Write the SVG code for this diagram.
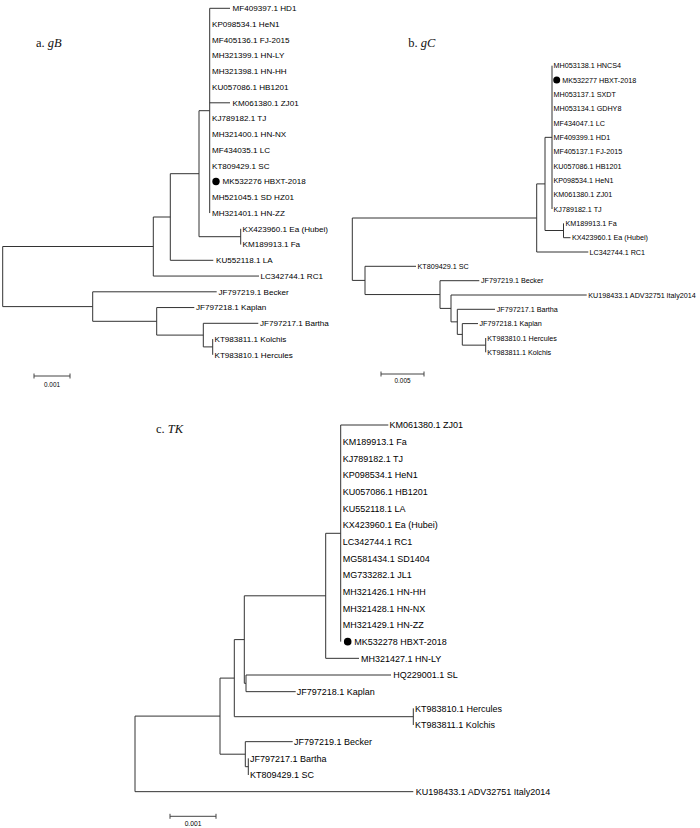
<svg xmlns="http://www.w3.org/2000/svg" width="700" height="828" viewBox="0 0 700 828">
<style>
.br{fill:none;stroke:#333;stroke-width:1}
.sb{fill:none;stroke:#444;stroke-width:1}
.ti{font-family:"Liberation Serif","Times New Roman",serif;font-size:12.5px;fill:#111}
.ti tspan{font-style:italic}
.la{font-family:"Liberation Sans",Arial,sans-serif;font-size:8.1px;fill:#000}
.lb{font-family:"Liberation Sans",Arial,sans-serif;font-size:7.2px;fill:#000}
.lc{font-family:"Liberation Sans",Arial,sans-serif;font-size:9px;fill:#000}
.sl{font-family:"Liberation Sans",Arial,sans-serif;font-size:6.4px;fill:#000;text-anchor:middle}
.dot{fill:#000}
</style>
<rect width="700" height="828" fill="#fff"/>

<g id="title-a"><text class="ti" x="36" y="47.3">a. <tspan>gB</tspan></text></g>
<g id="title-b"><text class="ti" x="408.3" y="47.3">b. <tspan>gC</tspan></text></g>
<g id="title-c"><text class="ti" x="156" y="433.3">c. <tspan>TK</tspan></text></g>

<g id="connectors">
 <g id="connectors-a" class="br">
  <path d="M153.3,246.5 H2.7 V306.6 H92.7"/>
  <path d="M170.3,217 H153.3 V276.05 H259"/>
  <path d="M199,173.7 H170.3 V260.3 H213.3"/>
  <path d="M209.7,110.7 H199 V236.7 H240.7"/>
  <path d="M230,8.3 H209.7 V213.05 M209.7,102.8 H230"/>
  <path d="M240.7,228.8 V244.55"/>
  <path d="M216.7,291.8 H92.7 V321.3 H156.7"/>
  <path d="M194.3,307.55 H156.7 V335.1 H203.3"/>
  <path d="M258.3,323.3 H203.3 V346.9 H212.7"/>
  <path d="M212.7,339.05 V354.8"/>
 </g>
 <g id="connectors-b" class="br">
  <path d="M536.7,218 H352.3 V280.4 H365"/>
  <path d="M545,183.9 H536.7 V252 H588.3"/>
  <path d="M552,137.35 H545 V230.5 H563.5"/>
  <path d="M552,65.7 V209"/>
  <path d="M563.5,223.35 V237.7 H570.5"/>
  <path d="M416,266.3 H365 V294.55 H440"/>
  <path d="M479.3,280.7 H440 V308.4 H451"/>
  <path d="M586.7,295 H451 V321.85 H457.3"/>
  <path d="M495,309.3 H457.3 V334.4 H462.3"/>
  <path d="M478,323.6 H462.3 V345.15 H485.7"/>
  <path d="M485.7,338 V352.3"/>
 </g>
 <g id="connectors-c" class="br">
  <path d="M220,716.1 H135 V791.67 H413.3"/>
  <path d="M234.3,678.1 H220 V754.2 H245.3"/>
  <path d="M244.3,639.6 H234.3 V716.7 H413.3"/>
  <path d="M325.7,595.8 H244.3 V683.3 H246"/>
  <path d="M340.7,533.3 H325.7 V658.33 H359"/>
  <path d="M388.3,425 H340.7 V641.67"/>
  <path d="M391,675 H246 V691.67 H295.7"/>
  <path d="M413.3,708.33 V725"/>
  <path d="M292.7,741.67 H245.3 V766.7 H248.3"/>
  <path d="M248.3,758.33 V775"/>
 </g>
</g>

<g id="tree-a">
 <g id="a-HD1"><text class="la" x="232.5" y="11.2">MF409397.1 HD1</text></g>
 <g id="a-HeN1"><text class="la" x="212" y="26.95">KP098534.1 HeN1</text></g>
 <g id="a-FJ2015"><text class="la" x="212" y="42.7">MF405136.1 FJ-2015</text></g>
 <g id="a-HNLY"><text class="la" x="212" y="58.45">MH321399.1 HN-LY</text></g>
 <g id="a-HNHH"><text class="la" x="212" y="74.2">MH321398.1 HN-HH</text></g>
 <g id="a-HB1201"><text class="la" x="212" y="89.95">KU057086.1 HB1201</text></g>
 <g id="a-ZJ01"><text class="la" x="232.5" y="105.7">KM061380.1 ZJ01</text></g>
 <g id="a-TJ"><text class="la" x="212" y="121.45">KJ789182.1 TJ</text></g>
 <g id="a-HNNX"><text class="la" x="212" y="137.2">MH321400.1 HN-NX</text></g>
 <g id="a-LC"><text class="la" x="212" y="152.95">MF434035.1 LC</text></g>
 <g id="a-SC"><text class="la" x="212" y="168.7">KT809429.1 SC</text></g>
 <g id="a-HBXT"><circle class="dot" cx="216" cy="181.55" r="3.7"/><text class="la" x="222.5" y="184.45">MK532276 HBXT-2018</text></g>
 <g id="a-SDHZ01"><text class="la" x="212" y="200.2">MH521045.1 SD HZ01</text></g>
 <g id="a-HNZZ"><text class="la" x="212" y="215.95">MH321401.1 HN-ZZ</text></g>
 <g id="a-Ea"><text class="la" x="242.5" y="231.7">KX423960.1 Ea (Hubei)</text></g>
 <g id="a-Fa"><text class="la" x="242.5" y="247.45">KM189913.1 Fa</text></g>
 <g id="a-LA"><text class="la" x="216" y="263.2">KU552118.1 LA</text></g>
 <g id="a-RC1"><text class="la" x="260.5" y="278.95">LC342744.1 RC1</text></g>
 <g id="a-Becker"><text class="la" x="218.5" y="294.7">JF797219.1 Becker</text></g>
 <g id="a-Kaplan"><text class="la" x="196" y="310.45">JF797218.1 Kaplan</text></g>
 <g id="a-Bartha"><text class="la" x="260" y="326.2">JF797217.1 Bartha</text></g>
 <g id="a-Kolchis"><text class="la" x="214.5" y="341.95">KT983811.1 Kolchis</text></g>
 <g id="a-Hercules"><text class="la" x="214.5" y="357.7">KT983810.1 Hercules</text></g>
 <g id="a-scale"><path class="sb" d="M34,376 H70 M34,373.5 V378.5 M70,373.5 V378.5"/><text class="sl" x="52" y="386.5">0.001</text></g>
</g>

<g id="tree-b">
 <g id="b-HNCS4"><text class="lb" x="553.5" y="68.3">MH053138.1 HNCS4</text></g>
 <g id="b-HBXT"><circle class="dot" cx="556.7" cy="80.03" r="3.5"/><text class="lb" x="562.3" y="82.63">MK532277 HBXT-2018</text></g>
 <g id="b-SXDT"><text class="lb" x="553.5" y="96.96">MH053137.1 SXDT</text></g>
 <g id="b-GDHY8"><text class="lb" x="553.5" y="111.3">MH053134.1 GDHY8</text></g>
 <g id="b-LC"><text class="lb" x="553.5" y="125.6">MF434047.1 LC</text></g>
 <g id="b-HD1"><text class="lb" x="553.5" y="139.95">MF409399.1 HD1</text></g>
 <g id="b-FJ2015"><text class="lb" x="553.5" y="154.3">MF405137.1 FJ-2015</text></g>
 <g id="b-HB1201"><text class="lb" x="553.5" y="168.6">KU057086.1 HB1201</text></g>
 <g id="b-HeN1"><text class="lb" x="553.5" y="182.95">KP098534.1 HeN1</text></g>
 <g id="b-ZJ01"><text class="lb" x="553.5" y="197.3">KM061380.1 ZJ01</text></g>
 <g id="b-TJ"><text class="lb" x="553.5" y="211.6">KJ789182.1 TJ</text></g>
 <g id="b-Fa"><text class="lb" x="565.5" y="225.95">KM189913.1 Fa</text></g>
 <g id="b-Ea"><text class="lb" x="572" y="240.3">KX423960.1 Ea (Hubei)</text></g>
 <g id="b-RC1"><text class="lb" x="589.5" y="254.6">LC342744.1 RC1</text></g>
 <g id="b-SC"><text class="lb" x="417.5" y="268.9">KT809429.1 SC</text></g>
 <g id="b-Becker"><text class="lb" x="481" y="283.3">JF797219.1 Becker</text></g>
 <g id="b-Italy"><text class="lb" x="588.3" y="297.6">KU198433.1 ADV32751 Italy2014</text></g>
 <g id="b-Bartha"><text class="lb" x="496.7" y="311.9">JF797217.1 Bartha</text></g>
 <g id="b-Kaplan"><text class="lb" x="479.5" y="326.2">JF797218.1 Kaplan</text></g>
 <g id="b-Hercules"><text class="lb" x="487.3" y="340.6">KT983810.1 Hercules</text></g>
 <g id="b-Kolchis"><text class="lb" x="487.3" y="354.9">KT983811.1 Kolchis</text></g>
 <g id="b-scale"><path class="sb" d="M381,374 H424 M381,371.5 V376.5 M424,371.5 V376.5"/><text class="sl" x="402.5" y="383">0.005</text></g>
</g>

<g id="tree-c">
 <g id="c-ZJ01"><text class="lc" x="389.5" y="428.2">KM061380.1 ZJ01</text></g>
 <g id="c-Fa"><text class="lc" x="342.7" y="444.87">KM189913.1 Fa</text></g>
 <g id="c-TJ"><text class="lc" x="342.7" y="461.53">KJ789182.1 TJ</text></g>
 <g id="c-HeN1"><text class="lc" x="342.7" y="478.2">KP098534.1 HeN1</text></g>
 <g id="c-HB1201"><text class="lc" x="342.7" y="494.87">KU057086.1 HB1201</text></g>
 <g id="c-LA"><text class="lc" x="342.7" y="511.53">KU552118.1 LA</text></g>
 <g id="c-Ea"><text class="lc" x="342.7" y="528.2">KX423960.1 Ea (Hubei)</text></g>
 <g id="c-RC1"><text class="lc" x="342.7" y="544.87">LC342744.1 RC1</text></g>
 <g id="c-SD1404"><text class="lc" x="342.7" y="561.53">MG581434.1 SD1404</text></g>
 <g id="c-JL1"><text class="lc" x="342.7" y="578.2">MG733282.1 JL1</text></g>
 <g id="c-HNHH"><text class="lc" x="342.7" y="594.87">MH321426.1 HN-HH</text></g>
 <g id="c-HNNX"><text class="lc" x="342.7" y="611.53">MH321428.1 HN-NX</text></g>
 <g id="c-HNZZ"><text class="lc" x="342.7" y="628.2">MH321429.1 HN-ZZ</text></g>
 <g id="c-HBXT"><circle class="dot" cx="347.7" cy="641.67" r="3.8"/><text class="lc" x="354.3" y="644.87">MK532278 HBXT-2018</text></g>
 <g id="c-HNLY"><text class="lc" x="361" y="661.53">MH321427.1 HN-LY</text></g>
 <g id="c-SL"><text class="lc" x="393.3" y="678.2">HQ229001.1 SL</text></g>
 <g id="c-Kaplan"><text class="lc" x="296.7" y="694.87">JF797218.1 Kaplan</text></g>
 <g id="c-Hercules"><text class="lc" x="415" y="711.53">KT983810.1 Hercules</text></g>
 <g id="c-Kolchis"><text class="lc" x="415" y="728.2">KT983811.1 Kolchis</text></g>
 <g id="c-Becker"><text class="lc" x="294" y="744.87">JF797219.1 Becker</text></g>
 <g id="c-Bartha"><text class="lc" x="250" y="761.53">JF797217.1 Bartha</text></g>
 <g id="c-SC"><text class="lc" x="250" y="778.2">KT809429.1 SC</text></g>
 <g id="c-Italy"><text class="lc" x="415.7" y="794.87">KU198433.1 ADV32751 Italy2014</text></g>
 <g id="c-scale"><path class="sb" d="M170,816.3 H216 M170,813.8 V818.8 M216,813.8 V818.8"/><text class="sl" x="193" y="825.7" style="font-size:6.7px">0.001</text></g>
</g>
</svg>
